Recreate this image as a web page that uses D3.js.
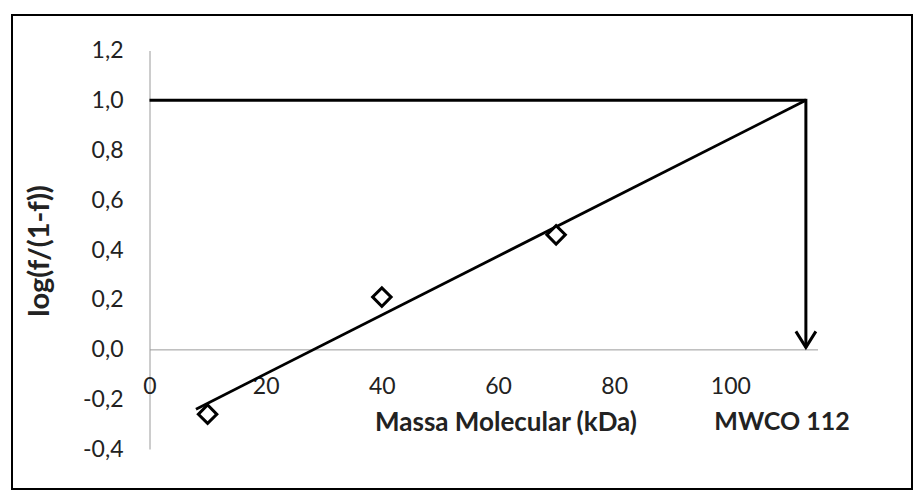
<!DOCTYPE html>
<html>
<head>
<meta charset="utf-8">
<script src="https://cdn.jsdelivr.net/npm/d3@7"></script>
<style>
  html, body { margin: 0; padding: 0; background: #fff; }
  svg { display: block; }
  text { font-family: Lato, "Open Sans", sans-serif; fill: #222; }
</style>
</head>
<body>
<svg id="chart" width="924" height="501"></svg>
<script>
// ---- data ----
const massa = [10, 40, 70];
const logF = [-0.26, 0.21, 0.46];
const trendX = [8, 113];
const trendY = [-0.24, 1.0];
const refLevel = 1.0;
const mwcoX = 113;
const xTicks = [0, 20, 40, 60, 80, 100];
const yTicks = [-0.4, -0.2, 0, 0.2, 0.4, 0.6, 0.8, 1.0, 1.2];
const xTitle = "Massa Molecular (kDa)";
const yTitle = "log(f/(1-f))";
const mwcoLabel = "MWCO 112";

const svg = d3.select("#chart");
const locale = d3.formatLocale({decimal: ",", thousands: ".", grouping: [3], currency: ["", ""], minus: "-"});
const fmtY = locale.format(".1f");

// frame
svg.append("rect").attr("x", 12).attr("y", 15).attr("width", 900).attr("height", 474)
  .attr("fill", "none").attr("stroke", "#000").attr("stroke-width", 2);

const x = d3.scaleLinear().domain([0, 115]).range([149.5, 817.5]);
const y = d3.scaleLinear().domain([-0.4, 1.2]).range([449, 50.5]);

// axes
const gy = svg.append("g").attr("transform", `translate(${x(0)},0)`)
  .call(d3.axisLeft(y).tickValues(yTicks).tickFormat(fmtY).tickSize(0).tickPadding(26));
const gx = svg.append("g").attr("transform", `translate(0,${y(0)})`)
  .call(d3.axisBottom(x).tickValues(xTicks).tickFormat(d3.format("d")).tickSize(0).tickPadding(28));
[gx, gy].forEach(g => {
  g.select(".domain").attr("stroke", "#9a9a9a").attr("stroke-width", 1);
  g.selectAll("text").attr("font-size", 23).attr("fill", "#222")
    .style("font-family", "Lato, 'Open Sans', sans-serif");
});

// titles
svg.append("text").attr("x", 506).attr("y", 431).attr("text-anchor", "middle")
  .attr("font-size", 26).attr("font-weight", "bold").text(xTitle);
svg.append("text").attr("x", 782).attr("y", 430).attr("text-anchor", "middle")
  .attr("font-size", 25).attr("font-weight", "bold").text(mwcoLabel);
svg.append("text").attr("transform", `translate(49,251) rotate(-90)`).attr("text-anchor", "middle")
  .attr("font-size", 29).attr("font-weight", "bold").text(yTitle);

// trend line
svg.append("line")
  .attr("x1", x(trendX[0])).attr("y1", y(trendY[0]))
  .attr("x2", x(trendX[1])).attr("y2", y(trendY[1]))
  .attr("stroke", "#000").attr("stroke-width", 2.8);

// reference horizontal line
svg.append("line")
  .attr("x1", x(0)).attr("y1", y(refLevel))
  .attr("x2", x(mwcoX)).attr("y2", y(refLevel))
  .attr("stroke", "#000").attr("stroke-width", 3);

// arrow down
const ax = x(mwcoX), tipY = y(0) - 2;
svg.append("line").attr("x1", ax).attr("y1", y(refLevel) - 1.5).attr("x2", ax).attr("y2", tipY)
  .attr("stroke", "#000").attr("stroke-width", 3);
svg.append("path")
  .attr("d", `M${ax - 10},${tipY - 16} L${ax},${tipY} L${ax + 10},${tipY - 16}`)
  .attr("fill", "none").attr("stroke", "#000").attr("stroke-width", 3).attr("stroke-linejoin", "miter");

// points (diamonds)
const diamond = d3.symbol().type(d3.symbolSquare).size(170);
svg.selectAll("path.pt").data(massa).join("path").attr("class", "pt")
  .attr("d", diamond)
  .attr("transform", (d, i) => `translate(${x(d)},${y(logF[i])}) rotate(45)`)
  .attr("fill", "#fff").attr("stroke", "#000").attr("stroke-width", 3);
</script>
</body>
</html>
